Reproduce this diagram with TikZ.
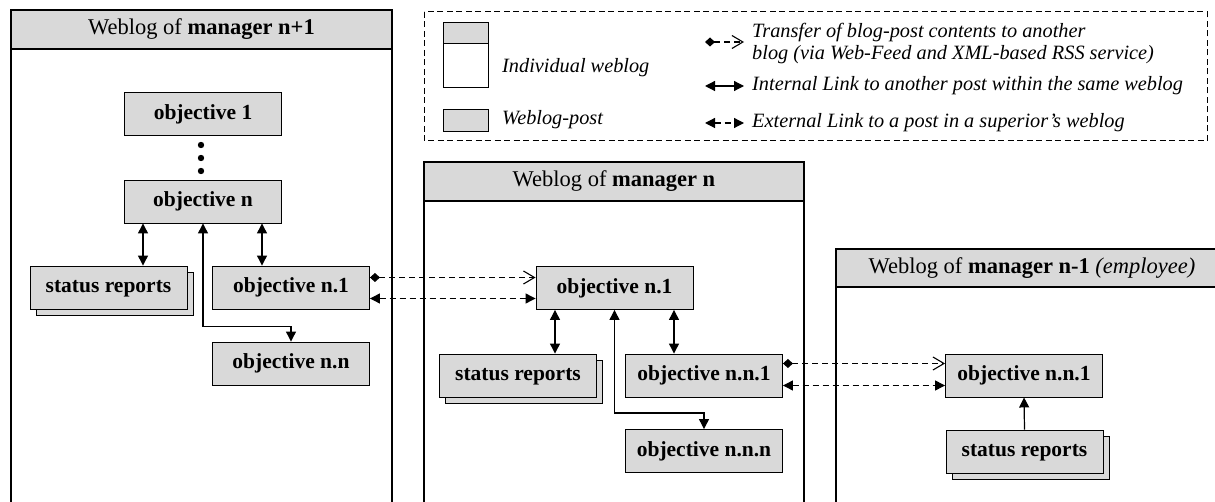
\documentclass[tikz,border=0pt]{standalone}
\usepackage{fontspec}
\setmainfont{Liberation Serif}
\usetikzlibrary{arrows.meta,shadows,calc}
\definecolor{postgray}{HTML}{D9D9D9}
\begin{document}
\begin{tikzpicture}[x=1pt,y=-1pt,
  >={Triangle[length=10pt,width=10pt]},
  post/.style={draw, line width=0.9pt, fill=postgray, minimum width=157pt, minimum height=43pt, inner sep=0pt, text height=15pt, text depth=4.5pt, font=\fontsize{21.5}{24}\selectfont\bfseries},
  stack/.style={post, copy shadow={shadow xshift=6pt, shadow yshift=-6pt}},
  frame/.style={line width=2pt},
  head/.style={font=\fontsize{22.5}{25}\selectfont, inner sep=0pt},
  legtext/.style={font=\fontsize{20.3}{22}\selectfont\itshape, anchor=west, inner sep=0pt, align=left},
  link/.style={line width=1.2pt, <->},
  extlink/.style={link, dash pattern=on 6pt off 4pt},
  feed/.style={line width=1.1pt, dash pattern=on 6pt off 4pt, {Diamond[length=10pt,width=9pt]}-{Straight Barb[length=11pt,width=13pt,line width=1.1pt]}}
]
\useasboundingbox (0,0) rectangle (1215,502);

% ---------- Legend ----------
\draw[line width=1pt, dash pattern=on 6pt off 3.5pt] (424,12) rectangle (1207,141);
\filldraw[fill=postgray, line width=0.9pt] (443,22) rectangle (488,43);
\draw[line width=0.9pt] (443,22) rectangle (488,87);
\node[legtext] (lweb) at (502,68) {Individual weblog};
\filldraw[fill=postgray, line width=0.9pt] (443,109) rectangle (488,131);
\node[legtext] (lpost) at (502,120) {Weblog-post};
\coordinate (lf1) at (705,42); \coordinate (lf2) at (744,42);
\coordinate (li1) at (705,86); \coordinate (li2) at (744,86);
\coordinate (le1) at (705,123); \coordinate (le2) at (744,123);
\draw[feed] (lf1) -- (lf2);
\draw[link] (li1) -- (li2);
\draw[extlink] (le1) -- (le2);
\node[legtext] (ltr) at (752,44) {Transfer of blog-post contents to another\\blog (via Web-Feed and XML-based RSS service)};
\node[legtext] (lin) at (752,86) {Internal Link to another post within the same weblog};
\node[legtext] (lex) at (752,123) {External Link to a post in a superior’s weblog};

% ---------- Weblog frames ----------
\filldraw[fill=postgray, frame] (11,10) rectangle (392,49);
\draw[frame] (11,10) rectangle (392,515);
\node[head] (h1) at (201.5,29.5) {Weblog of \textbf{manager n+1}};

\filldraw[fill=postgray, frame] (424,162) rectangle (804,201);
\draw[frame] (424,162) rectangle (804,515);
\node[head] (h2) at (614,181.5) {Weblog of \textbf{manager n}};

\filldraw[fill=postgray, frame] (836,249) rectangle (1228,287);
\draw[frame] (836,249) rectangle (1228,515);
\node[head] (h3) at (1032,268) {Weblog of \textbf{manager n-1} \textit{(employee)}};

% ---------- manager n+1 ----------
\node[post] (obj1) at (203,114) {objective 1};
\node[post] (objn) at (203,201.5) {objective n};
\fill (201,145) circle (3.2pt);
\fill (201,158) circle (3.2pt);
\fill (201,171) circle (3.2pt);
\node[stack] (sr1) at (108.5,287.5) {status reports};
\node[post] (on1a) at (291,287.5) {objective n.1};
\node[post] (onna) at (291,363.5) {objective n.n};

\coordinate (a1) at ($(objn.south)+(-60,0)$);
\coordinate (a2) at ($(objn.south)+(59,0)$);
\draw[link] (a1) -- (a1 |- sr1.north);
\draw[link] (a2) -- (a2 |- on1a.north);
\draw[link] (objn.south) -- ++(0,103) -| (onna.north);

% ---------- manager n ----------
\node[post] (on1b) at (614.5,288) {objective n.1};
\node[stack] (sr2) at (518,375.5) {status reports};
\node[post] (onn1b) at (704,375.5) {objective n.n.1};
\node[post] (onnn) at (704,451) {objective n.n.n};

\coordinate (b1) at ($(on1b.south)+(-59.5,0)$);
\coordinate (b2) at ($(on1b.south)+(59.5,0)$);
\draw[link] (b1) -- (b1 |- sr2.north);
\draw[link] (b2) -- (b2 |- onn1b.north);
\draw[link] (on1b.south) -- ++(0,103) -| (onnn.north);

% ---------- manager n-1 ----------
\node[post] (onn1c) at (1024,375.5) {objective n.n.1};
\node[stack] (sr3) at (1024.5,451.5) {status reports};
\draw[line width=1.2pt, ->] (sr3.north) -- (onn1c.south);

% ---------- inter-weblog links ----------
\coordinate (t1) at ([yshift=10pt]on1a.east);
\coordinate (x1) at ([yshift=-11pt]on1a.east);
\draw[feed] (t1) -- (t1 -| on1b.west);
\draw[extlink] (x1) -- (x1 -| on1b.west);

\coordinate (t2) at ([yshift=12pt]onn1b.east);
\coordinate (x2) at ([yshift=-10pt]onn1b.east);
\draw[feed] (t2) -- (t2 -| onn1c.west);
\draw[extlink] (x2) -- (x2 -| onn1c.west);
\end{tikzpicture}
\end{document}
